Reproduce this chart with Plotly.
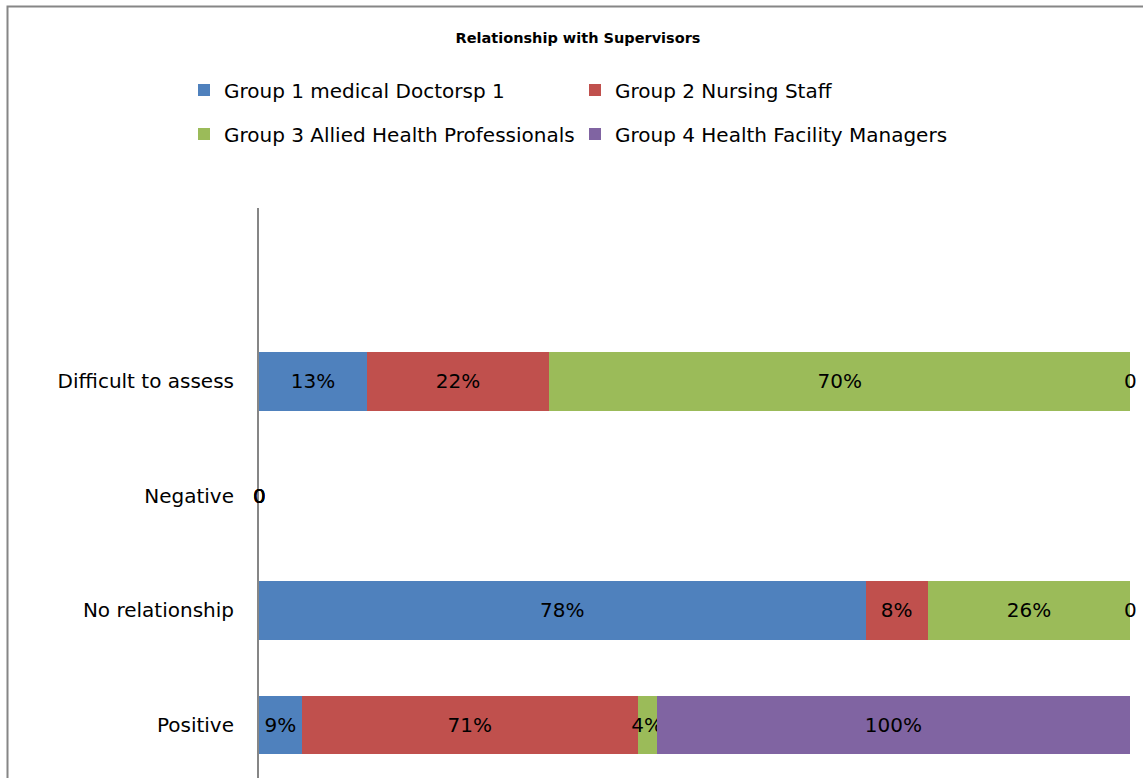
import plotly.graph_objects as go
import numpy as np

categories = ["Positive", "No relationship", "Negative", "Difficult to assess"]
series_names = [
    "Group 1 medical Doctorsp 1",
    "Group 2 Nursing Staff",
    "Group 3 Allied Health Professionals",
    "Group 4 Health Facility Managers",
]
group1 = [9, 78, 0, 13]
group2 = [71, 8, 0, 22]
group3 = [4, 26, 0, 70]
group4 = [100, 0, 0, 0]
colors = ["#4F81BD", "#C0504D", "#9BBB59", "#8064A2"]

series = [group1, group2, group3, group4]
FONT = "DejaVu Sans"
FS = 20

W, H = 1143, 778
L, T = 259, 208
plot_w = W - L
plot_h = H - T

fig = go.Figure()
legend_ids = ["legend", "legend", "legend2", "legend2"]
for name, vals, col, lg in zip(series_names, series, colors, legend_ids):
    labels = [f"{v}%" if v else "0" for v in vals]
    fig.add_trace(go.Bar(
        y=categories, x=vals, name=name, orientation="h",
        marker=dict(color=col, line=dict(width=0)),
        text=labels, texttemplate="%{text}", textposition="inside",
        insidetextanchor="middle", constraintext="none", textangle=0,
        insidetextfont=dict(family=FONT, size=FS, color="black"),
        legend=lg,
    ))

# zero-valued labels (zero-width segments)
arr = np.array(series, dtype=float)
totals = arr.sum(axis=0)
cum = np.cumsum(arr, axis=0)
annotations = []
for si in range(arr.shape[0]):
    for ci, cat in enumerate(categories):
        if arr[si, ci] == 0:
            xpos = cum[si, ci] / totals[ci] if totals[ci] else 0.0
            annotations.append(dict(
                x=xpos, y=cat, xref="x", yref="y", text="0", showarrow=False,
                xanchor="center", yanchor="middle",
                font=dict(family=FONT, size=FS, color="black"),
            ))

ppu = 871.0  # pixels per unit fraction
leg_common = dict(orientation="h", x=(184 - L) / plot_w, xanchor="left", yanchor="middle",
                  entrywidth=346, traceorder="normal",
                  font=dict(family=FONT, size=FS, color="black"), bgcolor="rgba(0,0,0,0)")
fig.update_layout(
    width=W, height=H,
    margin=dict(l=L, r=0, t=T, b=0),
    paper_bgcolor="white", plot_bgcolor="white",
    barmode="stack", barnorm="fraction", bargap=0.493,
    title=dict(text="<b>Relationship with Supervisors</b>", x=578 / W, xanchor="center",
               y=1 - 38 / H, yanchor="middle", font=dict(family=FONT, size=14.5, color="black")),
    xaxis=dict(range=[0, plot_w / ppu], visible=False, showgrid=False, zeroline=False),
    yaxis=dict(categoryorder="array", categoryarray=categories, range=[-0.463, 4.515],
               showline=True, linecolor="#868686", linewidth=2, ticks="", showgrid=False,
               zeroline=False, ticklabelstandoff=19,
               tickfont=dict(family=FONT, size=FS, color="black")),
    legend=dict(y=(H - 90) / plot_h, **leg_common),
    legend2=dict(y=(H - 134) / plot_h, **leg_common),
    annotations=annotations,
    shapes=[dict(type="rect", xref="paper", yref="paper",
                 x0=(7.5 - L) / plot_w, x1=1.2, y0=-0.2, y1=(H - 6.5) / plot_h,
                 line=dict(color="#868686", width=2), layer="below")],
    showlegend=True,
)

fig.write_html("out.html", config={"displayModeBar": False},
               post_script="document.body.style.margin='0';document.body.style.overflow='hidden';")
